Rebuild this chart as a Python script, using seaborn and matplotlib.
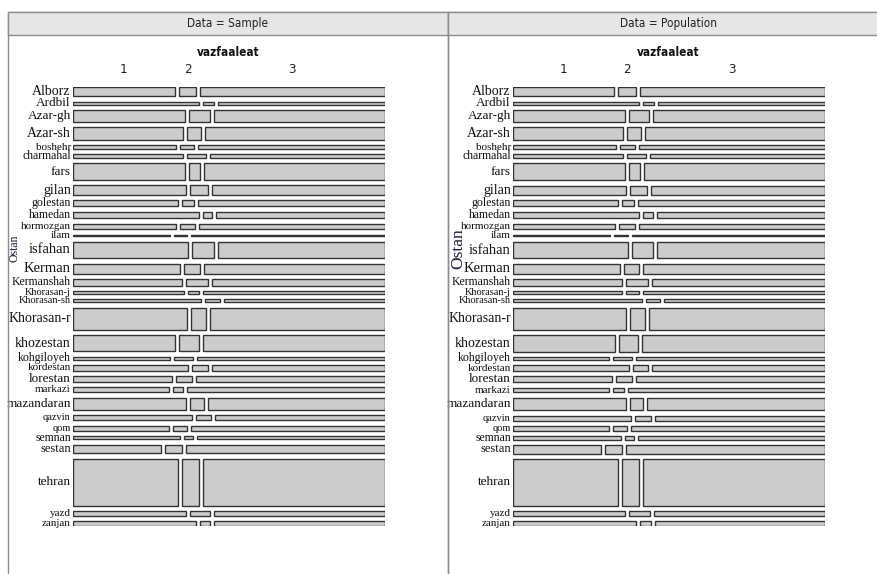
import matplotlib
matplotlib.use('Agg')

import numpy as np
import pandas as pd
import seaborn as sns
import matplotlib.pyplot as plt
from matplotlib import font_manager
from matplotlib.font_manager import FontProperties
from matplotlib.patches import Rectangle
from matplotlib.transforms import blended_transform_factory

# Ostan (province) rows of the mosaic
provinces = ['Alborz', 'Ardbil', 'Azar-gh', 'Azar-sh', 'boshehr', 'charmahal', 'fars',
             'gilan', 'golestan', 'hamedan', 'hormozgan', 'ilam', 'isfahan', 'Kerman',
             'Kermanshah', 'Khorasan-j', 'Khorasan-sh', 'Khorasan-r', 'khozestan',
             'kohgiloyeh', 'kordestan', 'lorestan', 'markazi', 'mazandaran', 'qazvin',
             'qom', 'semnan', 'sestan', 'tehran', 'yazd', 'zanjan']
vazfaaleat = ['1', '2', '3']

# relative row sizes (share of each province)
sample_size = [28, 10, 34, 40, 11, 11, 51, 28, 19, 20, 17, 5, 51, 30, 20, 9, 9, 68, 49,
               9, 17, 18, 15, 38, 15, 15, 10, 26, 144, 13, 14]
population_size = [28, 10, 34, 40, 11, 11, 51, 28, 19, 20, 17, 5, 51, 30, 20, 9, 9, 68, 49,
                   9, 17, 18, 15, 38, 15, 15, 10, 26, 143, 13, 14]

# percent of each province in vazfaaleat 1 / 2 / 3
sample_v1 = [33.7, 41.5, 37.0, 36.4, 33.9, 36.3, 36.8, 37.4, 34.7, 41.7, 33.9, 31.9, 38.0,
             35.4, 36.0, 36.5, 42.2, 37.5, 33.5, 32.1, 38.1, 32.8, 31.8, 37.4, 39.1, 31.8,
             35.4, 28.9, 34.6, 37.2, 40.6]
sample_v2 = [5.5, 3.7, 6.7, 4.6, 4.6, 6.2, 3.8, 5.7, 3.9, 2.9, 5.1, 4.4, 7.1, 5.2, 7.3, 3.9,
             4.9, 5.0, 6.7, 6.2, 5.1, 5.0, 3.3, 4.4, 5.0, 4.4, 2.9, 5.6, 5.6, 6.5, 3.4]
sample_v3 = [60.8, 54.8, 56.3, 59.0, 61.5, 57.5, 59.4, 56.9, 61.4, 55.4, 61.0, 63.7, 54.9,
             59.4, 56.7, 59.6, 52.9, 57.5, 59.8, 61.7, 56.8, 62.2, 64.9, 58.2, 55.9, 63.8,
             61.7, 65.5, 59.8, 56.3, 56.0]

pop_v1 = [33.4, 41.6, 36.9, 36.3, 34.1, 36.3, 36.9, 37.3, 34.5, 41.7, 33.8, 32.0, 38.1,
          35.4, 36.0, 36.0, 42.4, 37.3, 33.5, 31.7, 38.2, 32.6, 31.6, 37.3, 39.0, 31.7,
          35.5, 28.9, 34.5, 37.0, 40.7]
pop_v2 = [5.8, 3.5, 6.7, 4.5, 4.8, 6.2, 3.7, 5.5, 4.1, 3.3, 5.0, 4.5, 6.9, 4.9, 7.3, 4.1,
          4.8, 4.8, 6.3, 6.2, 4.9, 5.3, 3.6, 4.1, 5.1, 4.6, 3.0, 5.6, 5.6, 6.7, 3.5]
pop_v3 = [60.8, 54.9, 56.4, 59.2, 61.1, 57.5, 59.4, 57.2, 61.4, 55.0, 61.2, 63.5, 55.0,
          59.7, 56.7, 59.9, 52.8, 57.9, 60.2, 62.1, 56.9, 62.1, 64.8, 58.6, 55.9, 63.7,
          61.5, 65.5, 59.9, 56.3, 55.8]

# label font sizes (style only)
label_sizes = [10, 9.5, 9.5, 10, 8, 8.5, 9.5, 10, 8.5, 8.5, 8, 8, 10.5, 10.5, 8.5, 7.5,
               7.5, 10, 10, 8.5, 8, 9.5, 8, 9.5, 7.5, 7.5, 8.5, 9, 9.5, 8, 8]

sns.set_style('white')

# a condensed sans for the header / column labels, if one is installed
narrow = FontProperties(family='Liberation Sans')
cands = [f for f in font_manager.fontManager.ttflist
         if ('Narrow' in f.fname or 'Condensed' in f.fname) and 'Serif' not in f.fname
         and 'Mono' not in f.fname]
for pref in ['LiberationSansNarrow-Regular', 'DejaVuSansCondensed.', 'Condensed-Regular',
             'Narrow-Regular']:
    hit = [f for f in cands if pref in f.fname]
    if hit:
        narrow = FontProperties(fname=hit[0].fname)
        break
narrow_bold = None
for pref in ['LiberationSansNarrow-Bold.', 'DejaVuSansCondensed-Bold.', 'Condensed-Bold.',
             'Narrow-Bold.']:
    hit = [f for f in cands if pref in f.fname]
    if hit:
        narrow_bold = FontProperties(fname=hit[0].fname)
        break
if narrow_bold is None:
    narrow_bold = FontProperties(family='Liberation Sans', weight='bold')
serif = 'Liberation Serif'

W, H = 878, 574
fig = plt.figure(figsize=(W / 100, H / 100), dpi=100)


def px_rect(x0, y0, x1, y1):
    return [x0 / W, 1 - y1 / H, (x1 - x0) / W, (y1 - y0) / H]


def fp(base, size):
    p = base.copy()
    p.set_size(size)
    return p


def draw_panel(x0, x1, title):
    # header strip and panel frame
    fig.add_artist(Rectangle((x0 / W, -0.01), (x1 - x0) / W, 1 - 12 / H + 0.01,
                             transform=fig.transFigure, fill=False,
                             edgecolor='#8c8c8c', linewidth=1))
    fig.add_artist(Rectangle((x0 / W, 1 - 35 / H), (x1 - x0) / W, 23 / H,
                             transform=fig.transFigure, facecolor='#e6e6e6',
                             edgecolor='#8c8c8c', linewidth=1))
    fig.text((x0 + x1) / 2 / W, 1 - 23.5 / H, title, ha='center', va='center',
             fontproperties=fp(narrow, 8.5), color='#222222')


def draw_mosaic(ax, sizes, v1, v2, v3):
    df = pd.DataFrame({'Ostan': provinces, 'size': sizes, '1': v1, '2': v2, '3': v3})
    shares = df[vazfaaleat].div(df[vazfaaleat].sum(axis=1), axis=0)

    gap_x = 4.0 / 312
    usable = 1 - 2 * gap_x
    widths = shares * usable
    lefts = widths.cumsum(axis=1).shift(1, axis=1).fillna(0)
    lefts = lefts + np.arange(3) * gap_x

    S = df['size'].sum()
    gap_y = 5.37 / 277.5 * S
    tops = df['size'].cumsum().shift(1).fillna(0) + np.arange(len(df)) * gap_y
    centers = tops + df['size'] / 2
    total = tops.iloc[-1] + df['size'].iloc[-1]

    for k in vazfaaleat:
        ax.barh(centers, widths[k], left=lefts[k], height=df['size'],
                color='#cccccc', edgecolor='#333333', linewidth=1)

    ax.set_xlim(0, 1)
    ax.set_ylim(total, 0)
    ax.axis('off')

    for name, c, fs in zip(df['Ostan'], centers, label_sizes):
        ax.text(-0.006, c, name, ha='right', va='center', fontsize=fs,
                family=serif, color='#111111', clip_on=False)

    # column labels sit over the first row
    tr = blended_transform_factory(ax.transData, ax.transAxes)
    for k in vazfaaleat:
        xc = lefts[k].iloc[0] + widths[k].iloc[0] / 2
        ax.text(xc, 1 + 18 / 438.5, k, transform=tr, ha='center', va='center',
                fontproperties=fp(narrow, 9.5), color='#222222')
    ax.text(0.5, 1 + 35 / 438.5, 'vazfaaleat', transform=ax.transAxes, ha='center',
            va='center', fontproperties=fp(narrow_bold, 8.5), color='#111111')


draw_panel(8, 448, 'Data = Sample')
draw_panel(448, 890, 'Data = Population')

ax1 = fig.add_axes(px_rect(72.7, 87.1, 384.6, 525.6))
draw_mosaic(ax1, sample_size, sample_v1, sample_v2, sample_v3)
fig.text(14.5 / W, 1 - 248 / H, 'Ostan', rotation=90, ha='center', va='center',
         fontsize=8.5, family=serif, color='#1a1a33')

ax2 = fig.add_axes(px_rect(512.7, 87.1, 824.6, 525.6))
draw_mosaic(ax2, population_size, pop_v1, pop_v2, pop_v3)
fig.text(458 / W, 1 - 249 / H, 'Ostan', rotation=90, ha='center', va='center',
         fontsize=12.5, family=serif, color='#1a1a33')

fig.savefig('out.png', dpi=100)
plt.close(fig)
